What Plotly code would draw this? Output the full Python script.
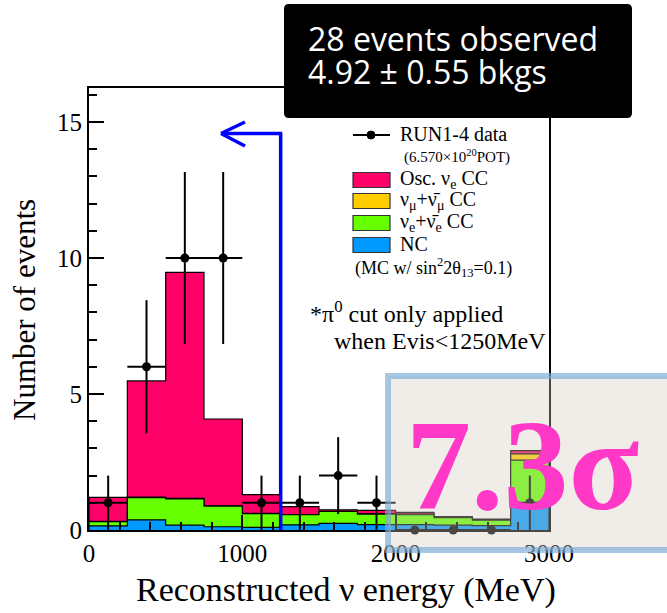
import numpy as np
import plotly.graph_objects as go

# ---------------- data ----------------
bin_edges = [0, 250, 500, 750, 1000, 1250, 1500, 1750, 2000, 2250, 2500, 2750, 3000]
data_counts = [1, 6, 10, 10, 1, 1, 2, 1, 0, 0, 0, 1]
nc_bkg = [0.15, 0.37, 0.18, 0.12, 0.10, 0.19, 0.24, 0.20, 0.20, 0.18, 0.16, 0.92]
beam_nue = [0.16, 0.82, 0.96, 0.76, 0.50, 0.37, 0.44, 0.38, 0.36, 0.27, 0.20, 1.65]
numu_cc = [0.01, 0.02, 0.02, 0.01, 0.01, 0.01, 0.01, 0.02, 0.02, 0.02, 0.02, 0.23]
osc_nue = [0.88, 4.27, 8.31, 3.19, 0.69, 0.29, 0.05, 0.12, 0.07, 0.02, 0.02, 0.12]

x_ticks = [0, 1000, 2000, 3000]
y_ticks = [0, 5, 10, 15]

col_osc = "#ff0066"
col_numu = "#ffcc00"
col_nue = "#66ff00"
col_nc = "#0099ff"

SERIF = "Liberation Serif"
W, H = 667, 613
L, R, T, B = 89, 549, 88, 530


def P(x, y):
    return (x - L) / (R - L), (B - y) / (B - T)


edges = np.array(bin_edges, dtype=float)
centers = (edges[:-1] + edges[1:]) / 2
half_w = (edges[1] - edges[0]) / 2

l1 = np.array(nc_bkg)
l2 = l1 + np.array(beam_nue)
l3 = l2 + np.array(numu_cc)
l4 = l3 + np.array(osc_nue)

fig = go.Figure()


def step_trace(vals, color):
    xs = [edges[0]] + list(edges[:-1]) + [edges[-1], edges[-1]]
    ys = [0] + list(vals) + [vals[-1], 0]
    return go.Scatter(x=xs, y=ys, mode="lines", line=dict(shape="hv", color="black", width=1.2),
                      fill="tozeroy", fillcolor=color, showlegend=False, hoverinfo="skip")


for vals, c in [(l4, col_osc), (l3, col_numu), (l2, col_nue), (l1, col_nc)]:
    fig.add_trace(step_trace(vals, c))

counts = np.array(data_counts, dtype=float)
fig.add_trace(go.Scatter(
    x=centers, y=counts, mode="markers",
    marker=dict(color="black", size=9),
    error_y=dict(type="data", array=np.sqrt(counts), color="black", thickness=2, width=0),
    error_x=dict(type="constant", value=half_w, color="black", thickness=2, width=0),
    cliponaxis=False, showlegend=False, hoverinfo="skip"))

shapes = []
ann = []


def pline(x0, y0, x1, y1, color, width):
    a, b = P(x0, y0)
    c, d = P(x1, y1)
    shapes.append(dict(type="line", xref="paper", yref="paper", x0=a, y0=b, x1=c, y1=d,
                       line=dict(color=color, width=width), layer="above"))


def prect(x0, y0, x1, y1, fill, lcolor, lwidth):
    a, b = P(x0, y0)
    c, d = P(x1, y1)
    shapes.append(dict(type="rect", xref="paper", yref="paper", x0=a, y0=b, x1=c, y1=d,
                       fillcolor=fill, line=dict(color=lcolor, width=lwidth), layer="above"))


def text(x, y, s, size, color="black", family=SERIF, xanchor="left", yanchor="middle", angle=0):
    a, b = P(x, y)
    ann.append(dict(xref="paper", yref="paper", x=a, y=b, text=s, showarrow=False,
                    font=dict(family=family, size=size, color=color),
                    xanchor=xanchor, yanchor=yanchor, textangle=angle))


# blue arrow (pi0 cut at 1250 MeV)
BLUE = "#0000ff"
cut_x = L + (1250 - 0) / 3000 * (R - L)
pline(cut_x, B, cut_x, 133.5, BLUE, 3.5)
pline(cut_x + 1.5, 133.5, 222, 133.5, BLUE, 3.5)
pline(221, 133.5, 245, 122, BLUE, 3.5)
pline(221, 133.5, 245, 146, BLUE, 3.5)

# legend
pline(353, 135, 390, 135, "black", 2)
a0, b0 = P(367, 131)
a1, b1 = P(375, 139)
shapes.append(dict(type="circle", xref="paper", yref="paper", x0=a0, y0=b0, x1=a1, y1=b1,
                   fillcolor="black", line=dict(color="black", width=1), layer="above"))
text(398, 134, "RUN1-4 data", 20)
text(402, 156, "(6.570×10<sup>20</sup>POT)", 15)
leg = [(180, col_osc, "Osc. ν<sub>e</sub> CC"),
       (201, col_numu, "ν<sub>μ</sub>+ν\u0304<sub>μ</sub> CC"),
       (223, col_nue, "ν<sub>e</sub>+ν\u0304<sub>e</sub> CC"),
       (245, col_nc, "NC")]
for yy, c, s in leg:
    prect(353, yy - 7.5, 390, yy + 7.5, c, "#333333", 1.2)
    text(398, yy - 1, s, 20)
text(353, 267, "(MC w/ sin<sup>2</sup>2θ<sub>13</sub>=0.1)", 18)

# pi0 note
text(308, 312, "*π<sup>0</sup> cut only applied", 24)
text(332, 341, "when Evis&lt;1250MeV", 24)

# black box (rounded)
x0, y0, x1, y1, r = 284, 4, 632, 118, 5


def pp(x, y):
    a, b = P(x, y)
    return f"{a:.5f},{b:.5f}"


path = (f"M {pp(x0 + r, y0)} L {pp(x1 - r, y0)} Q {pp(x1, y0)} {pp(x1, y0 + r)} "
        f"L {pp(x1, y1 - r)} Q {pp(x1, y1)} {pp(x1 - r, y1)} "
        f"L {pp(x0 + r, y1)} Q {pp(x0, y1)} {pp(x0, y1 - r)} "
        f"L {pp(x0, y0 + r)} Q {pp(x0, y0)} {pp(x0 + r, y0)} Z")
shapes.append(dict(type="path", xref="paper", yref="paper", path=path, fillcolor="black",
                   line=dict(color="black", width=0), layer="above"))
text(306, 39, "28 events observed", 32, color="white", family="Open Sans")
text(306, 72, "4.92 ± 0.55 bkgs", 32, color="white", family="Open Sans")

# 7.3 sigma box
prect(388, 376, 672, 550, "rgba(212,204,189,0.35)", "rgba(120,170,215,0.65)", 6)
text(522, 465, "<b>7.3σ</b>", 130, color="#ff38c8", xanchor="center")

# axis titles
text(24, 310, "Number of events", 31, xanchor="center", angle=-90)
text(346, 590, "Reconstructed ν energy (MeV)", 34, xanchor="center")

axis_common = dict(showline=True, linewidth=2, linecolor="black", mirror=True, ticks="inside",
                   ticklen=15, tickwidth=1.5, tickcolor="black", showgrid=False, zeroline=False,
                   tickfont=dict(family=SERIF, size=25, color="black"))

fig.update_layout(
    width=W, height=H,
    margin=dict(l=L, r=W - R, t=T, b=H - B, pad=0),
    paper_bgcolor="white", plot_bgcolor="white",
    showlegend=False,
    xaxis=dict(range=[0, 3000], tickmode="array", tickvals=x_ticks,
               minor=dict(ticks="inside", ticklen=8, tickwidth=1.5, tickcolor="black", dtick=200, tick0=0),
               **axis_common),
    yaxis=dict(range=[0, 16.25], tickmode="array", tickvals=y_ticks,
               minor=dict(ticks="inside", ticklen=8, tickwidth=1.5, tickcolor="black", dtick=1, tick0=0),
               **axis_common),
    shapes=shapes,
    annotations=ann,
)

fig.write_html("out.html")
